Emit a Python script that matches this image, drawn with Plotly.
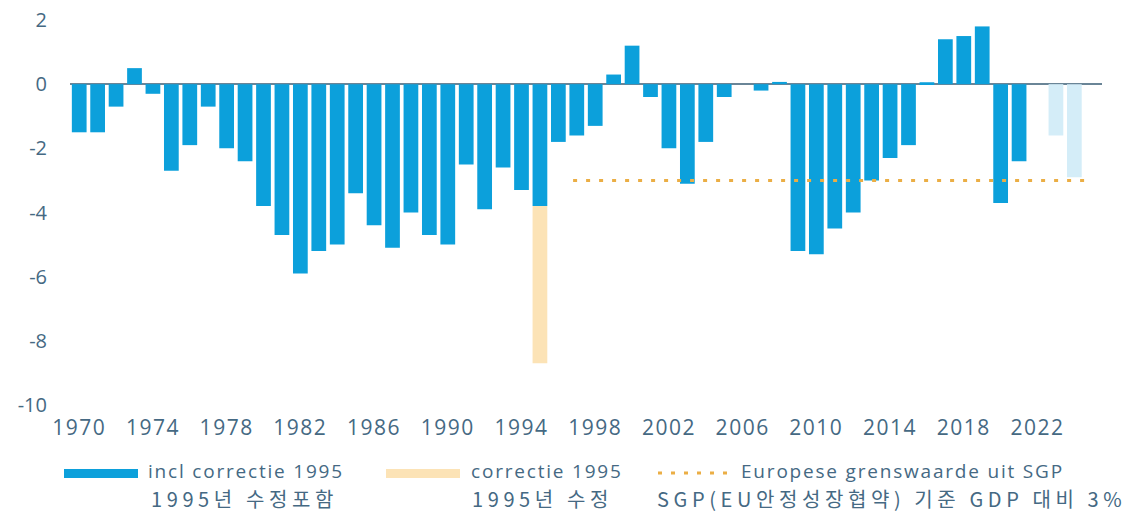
import plotly.graph_objects as go

# ---- data ----
years = list(range(1970, 2025))
balance = [-1.5, -1.5, -0.7, 0.5, -0.3, -2.7, -1.9, -0.7, -2.0, -2.4,
           -3.8, -4.7, -5.9, -5.2, -5.0, -3.4, -4.4, -5.1, -4.0, -4.7,
           -5.0, -2.5, -3.9, -2.6, -3.3, -3.8, -1.8, -1.6, -1.3, 0.3,
           1.2, -0.4, -2.0, -3.1, -1.8, -0.4, 0.0, -0.2, 0.07, -5.2,
           -5.3, -4.5, -4.0, -3.0, -2.3, -1.9, 0.06, 1.4, 1.5, 1.8,
           -3.7, -2.4, None, None, None]
correction_years = [1995]
correction_values = [-4.9]
forecast_years = [2023, 2024]
forecast_values = [-1.6, -2.9]
sgp_years = [1996.8, 2024.75]
sgp_limit = [-3, -3]
x_ticks = list(range(1970, 2023, 4))
y_ticks = [2, 0, -2, -4, -6, -8, -10]

BLUE = "#0CA0DB"
BEIGE = "#FCE3B6"
LIGHTBLUE = "#D4EDF8"
ORANGE = "#EBAE45"
TXT = "#456983"

fig = go.Figure()
fig.add_bar(x=years, y=balance, marker=dict(color=BLUE, line_width=0),
            name="incl correctie 1995", showlegend=False)
fig.add_bar(x=correction_years, y=correction_values, marker=dict(color=BEIGE, line_width=0),
            name="correctie 1995", showlegend=False)
fig.add_bar(x=forecast_years, y=forecast_values, marker=dict(color=LIGHTBLUE, line_width=0),
            showlegend=False)
fig.add_scatter(x=sgp_years, y=sgp_limit, mode="lines",
                line=dict(color=ORANGE, width=3, dash="4px,9px"),
                name="Europese grenswaarde uit SGP", showlegend=False)

fig.update_layout(
    width=1141, height=512,
    margin=dict(l=70, r=39, t=20, b=107, autoexpand=False),
    paper_bgcolor="white", plot_bgcolor="white",
    barmode="relative", bargap=0.2,
    showlegend=False,
    font=dict(family="Open Sans", color=TXT),
)
fig.update_xaxes(range=[1969.5, 2025.5], tickmode="array", tickvals=x_ticks,
                 ticktext=[str(t) for t in x_ticks], automargin=False,
                 showgrid=False, zeroline=False, showline=False,
                 tickfont=dict(size=21, color=TXT), ticklabelstandoff=8)
fig.update_yaxes(range=[-10, 2], tickmode="array", tickvals=y_ticks,
                 ticktext=[str(t) for t in y_ticks], automargin=False,
                 showgrid=False, zeroline=True, zerolinecolor="#6A8597", zerolinewidth=1.5,
                 showline=False, tickfont=dict(size=20, color=TXT), ticklabelstandoff=22)

# ---- custom legend (paper coordinates) ----
def px_x(p):
    return (p - 70) / 1032

def px_y(p):
    return (405 - p) / 385

fig.add_shape(type="rect", xref="paper", yref="paper",
              x0=px_x(64), x1=px_x(138), y0=px_y(469), y1=px_y(478),
              fillcolor=BLUE, line_width=0)
fig.add_shape(type="rect", xref="paper", yref="paper",
              x0=px_x(386), x1=px_x(460), y0=px_y(469), y1=px_y(478),
              fillcolor=BEIGE, line_width=0)
fig.add_shape(type="line", xref="paper", yref="paper",
              x0=px_x(658), x1=px_x(732), y0=px_y(473), y1=px_y(473),
              line=dict(color=ORANGE, width=3, dash="4px,9px"))

legend_items = [
    (147, 471, "incl correctie 1995", "Open Sans", 19),
    (470, 471, "correctie 1995", "Open Sans", 19),
    (740, 471, "Europese grenswaarde uit SGP", "Open Sans", 19),
    (150, 498, "1995년 수정포함", "Noto Sans CJK KR", 20),
    (471, 498, "1995년 수정", "Noto Sans CJK KR", 20),
    (656, 498, "SGP(EU안정성장협약) 기준 GDP 대비 3%", "Noto Sans CJK KR", 20),
]
for x, y, t, fam, sz in legend_items:
    fig.add_annotation(xref="paper", yref="paper", x=px_x(x), y=px_y(y),
                       text=t, showarrow=False, xanchor="left", yanchor="middle",
                       borderpad=0, font=dict(family=fam, size=sz, color=TXT))

# The reference text is set wider (letter-spaced); mimic with CSS letter-spacing,
# keeping each legend text's left edge where plotly placed it.
post = """
document.body.style.margin='0';
document.body.style.overflow='hidden';
var gd = document.getElementById('{plot_id}');
function spaceText(){
  gd.querySelectorAll('text.annotation-text').forEach(function(t){
    if (t.getAttribute('data-spaced')) return;
    var b0 = t.getBBox();
    t.style.letterSpacing = /[\\uac00-\\ud7a3]/.test(t.textContent) ? '4.6px' : '1.8px';
    var b1 = t.getBBox();
    var dx = b0.x - b1.x;
    var x0 = parseFloat(t.getAttribute('x') || '0');
    t.setAttribute('x', x0 + dx);
    t.querySelectorAll('tspan[x]').forEach(function(s){
      s.setAttribute('x', parseFloat(s.getAttribute('x')) + dx);
    });
    t.setAttribute('data-spaced', '1');
  });
  gd.querySelectorAll('.xtick text').forEach(function(t){
    t.style.letterSpacing = '1.5px';
  });
}
spaceText();
gd.on('plotly_afterplot', spaceText);
"""

fig.write_html("out.html", config={"displayModeBar": False}, post_script=post)
